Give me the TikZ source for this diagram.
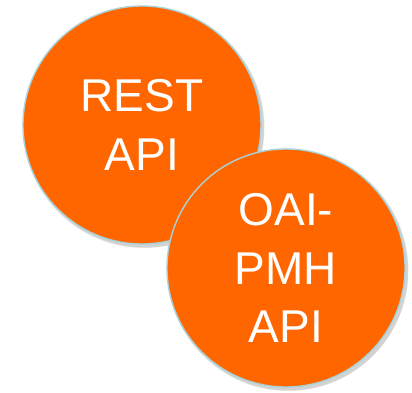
\documentclass[tikz,border=0pt]{standalone}
\usepackage{fontspec}
\setmainfont{Liberation Sans}
\definecolor{apiorange}{HTML}{FF6600}
\definecolor{apirim}{HTML}{A8D3D9}
\begin{document}
\begin{tikzpicture}[x=1pt,y=-1pt,
  apicircle/.style={circle,draw=apirim,line width=1.4pt,fill=apiorange,
    minimum size=238pt,inner sep=0pt,text=white,align=center,
    font=\fontsize{46}{58.5}\selectfont},
  apishadow/.style={fill=black,fill opacity=0.09,draw=none}]
\useasboundingbox (0,0) rectangle (412,393);
\fill[apishadow] (144,127.5) circle (120.5pt);
\fill[apishadow] (144.5,128) circle (119.5pt);
\node[apicircle] (rest) at (142,125) {REST\\API};
\fill[apishadow] (288,270.5) circle (120.5pt);
\fill[apishadow] (288.5,271) circle (119.5pt);
\node[apicircle] (oai) at (286,268) {OAI-\\PMH\\API};
\end{tikzpicture}
\end{document}
